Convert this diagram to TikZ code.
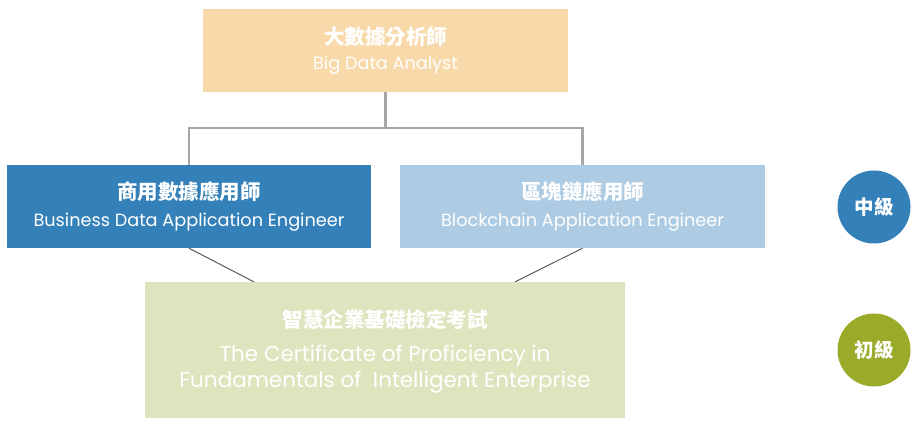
\documentclass[tikz,border=0pt]{standalone}
\usepackage{fontspec}
\usetikzlibrary{calc}
\newfontfamily\cjk{Noto Sans CJK TC}
\newfontfamily\en{Poppins}
\definecolor{cTop}{HTML}{F8D9A9}
\definecolor{cBlue}{HTML}{3480B8}
\definecolor{cLight}{HTML}{ADCBE2}
\definecolor{cGreen}{HTML}{DFE4BE}
\definecolor{cOlive}{HTML}{9AAB2A}
\definecolor{cTree}{HTML}{A6A6A6}
\definecolor{cDiag}{HTML}{5A5A5A}
\tikzset{
  x=1pt,y=1pt,
  box/.style={rectangle,draw=none,minimum width=#1,inner sep=0pt,text=white,align=center},
  zh/.style={text=white,font=\cjk\bfseries\fontsize{20.5}{24}\selectfont},
  entxt/.style={text=white,font=\en\fontsize{#1}{26}\selectfont,align=center},
  treeline/.style={draw=cTree,line width=2.4pt},
  diagline/.style={draw=cDiag,line width=1pt},
  level/.style={circle,fill=#1,minimum size=73pt,inner sep=0pt,text=white,font=\cjk\bfseries\fontsize{19.5}{22}\selectfont}
}
\begin{document}
\begin{tikzpicture}
\useasboundingbox (0,0) rectangle (917,-430);
% boxes
\node[box=365pt,minimum height=83pt,fill=cTop] (top) at (385.5,-50.5) {};
\node[box=364pt,minimum height=83pt,fill=cBlue] (left) at (189,-206.5) {};
\node[box=365pt,minimum height=83pt,fill=cLight] (right) at (582.5,-206.5) {};
\node[box=480pt,minimum height=136pt,fill=cGreen] (bottom) at (385,-350) {};
% texts
\node[zh] (topzh) at (385.5,-37) {大數據分析師};
\node[entxt=17.7] (topen) at (385.5,-65) {Big Data Analyst};
\node[zh] (leftzh) at (189,-192) {商用數據應用師};
\node[entxt=17.7] (leften) at (189,-222) {Business Data Application Engineer};
\node[zh] (rightzh) at (582.5,-192) {區塊鏈應用師};
\node[entxt=17.7] (righten) at (582.5,-222) {Blockchain Application Engineer};
\node[zh] (botzh) at (385,-320) {智慧企業基礎檢定考試};
\node[entxt=21.5] (boten) at (385,-369) {The Certificate of Proficiency in\\Fundamentals of\ \ Intelligent Enterprise};
% circles
\node[level=cBlue] (mid) at (874,-207) {中級};
\node[level=cOlive] (basic) at (874,-350) {初級};
% tree connector
\coordinate (j) at (385.5,-128);
\draw[treeline] (top.south) -- (j);
\draw[treeline] (left.north) |- (j) -| (right.north);
% diagonal connectors
\coordinate (bl) at ($(bottom.north west)+(109,0)$);
\coordinate (br) at ($(bottom.north east)+(-110,0)$);
\draw[diagline] (left.south) -- (bl);
\draw[diagline] (right.south) -- (br);
\end{tikzpicture}
\end{document}
